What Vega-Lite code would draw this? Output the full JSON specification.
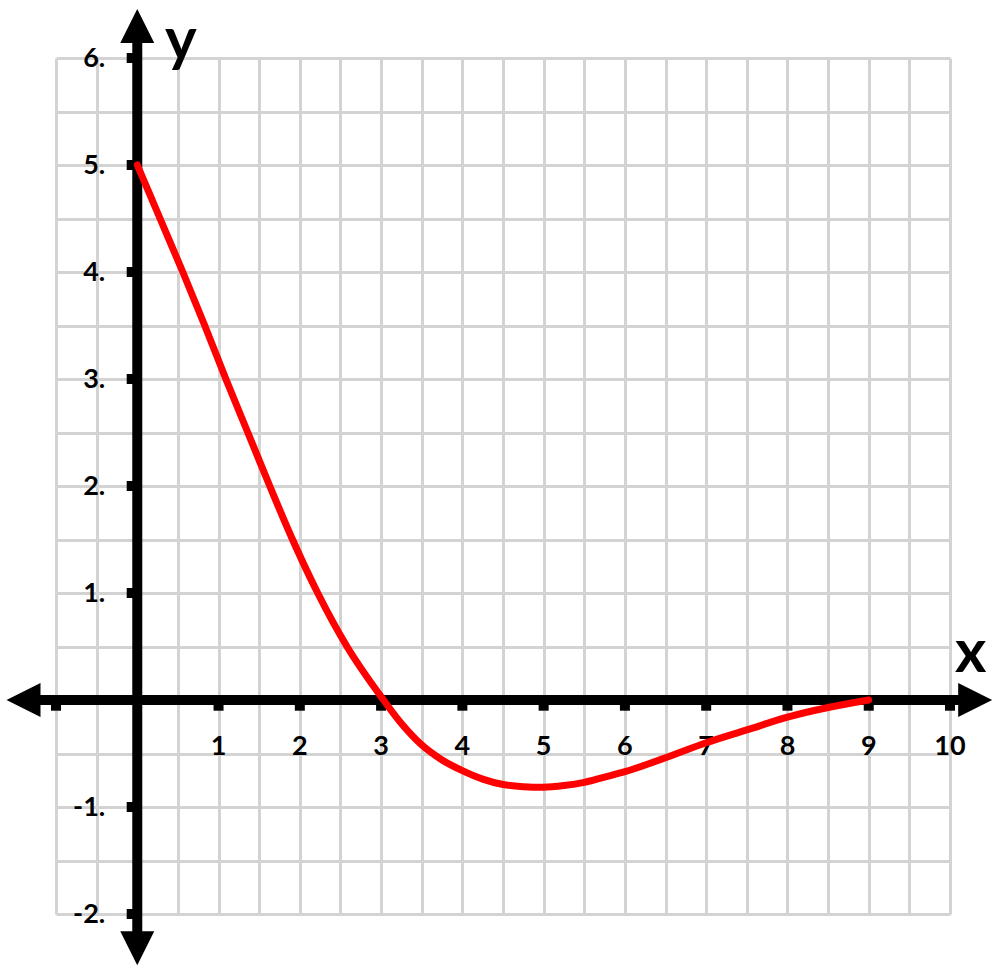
{
  "$schema": "https://vega.github.io/schema/vega-lite/v6.json",
  "width": 894,
  "height": 856,
  "autosize": {"type": "none"},
  "padding": {"left": 56, "top": 58, "right": 50, "bottom": 62},
  "background": "white",
  "datasets": {
    "curve": [
      {"x": 0, "y": 5},
      {"x": 0.28, "y": 4.5},
      {"x": 0.56, "y": 4},
      {"x": 0.83, "y": 3.5},
      {"x": 1.09, "y": 3},
      {"x": 1.36, "y": 2.5},
      {"x": 1.63, "y": 2},
      {"x": 1.91, "y": 1.5},
      {"x": 2.22, "y": 1},
      {"x": 2.58, "y": 0.5},
      {"x": 3.03, "y": 0},
      {"x": 3.25, "y": -0.22},
      {"x": 3.5, "y": -0.42},
      {"x": 3.75, "y": -0.56},
      {"x": 4.0, "y": -0.66},
      {"x": 4.25, "y": -0.74},
      {"x": 4.5, "y": -0.79},
      {"x": 4.75, "y": -0.81},
      {"x": 5.0, "y": -0.815},
      {"x": 5.25, "y": -0.8},
      {"x": 5.5, "y": -0.77},
      {"x": 5.75, "y": -0.72},
      {"x": 6.0, "y": -0.67},
      {"x": 6.5, "y": -0.54},
      {"x": 7.0, "y": -0.4},
      {"x": 7.5, "y": -0.28},
      {"x": 8.0, "y": -0.16},
      {"x": 8.5, "y": -0.07},
      {"x": 9.0, "y": 0}
    ],
    "axes": [
      {"x": -1.4, "y": 0, "x2": 10.31, "y2": 0},
      {"x": 0, "y": -2.32, "x2": 0, "y2": 6.3},
      {"x": -1, "y": 0, "x2": -1, "y2": -0.1},
      {"x": 1, "y": 0, "x2": 1, "y2": -0.1},
      {"x": 2, "y": 0, "x2": 2, "y2": -0.1},
      {"x": 3, "y": 0, "x2": 3, "y2": -0.1},
      {"x": 4, "y": 0, "x2": 4, "y2": -0.1},
      {"x": 5, "y": 0, "x2": 5, "y2": -0.1},
      {"x": 6, "y": 0, "x2": 6, "y2": -0.1},
      {"x": 7, "y": 0, "x2": 7, "y2": -0.1},
      {"x": 8, "y": 0, "x2": 8, "y2": -0.1},
      {"x": 9, "y": 0, "x2": 9, "y2": -0.1},
      {"x": 10, "y": 0, "x2": 10, "y2": -0.1},
      {"x": -0.13, "y": 6, "x2": 0, "y2": 6},
      {"x": -0.13, "y": 5, "x2": 0, "y2": 5},
      {"x": -0.13, "y": 4, "x2": 0, "y2": 4},
      {"x": -0.13, "y": 3, "x2": 0, "y2": 3},
      {"x": -0.13, "y": 2, "x2": 0, "y2": 2},
      {"x": -0.13, "y": 1, "x2": 0, "y2": 1},
      {"x": -0.13, "y": -1, "x2": 0, "y2": -1},
      {"x": -0.13, "y": -2, "x2": 0, "y2": -2}
    ],
    "arrows": [
      {"x": -1.4, "y": 0, "dir": "left"},
      {"x": 10.31, "y": 0, "dir": "right"},
      {"x": 0, "y": 6.3, "dir": "up"},
      {"x": 0, "y": -2.32, "dir": "down"}
    ],
    "xlabels": [
      {"x": 1, "y": 0, "label": "1"},
      {"x": 2, "y": 0, "label": "2"},
      {"x": 3, "y": 0, "label": "3"},
      {"x": 4, "y": 0, "label": "4"},
      {"x": 5, "y": 0, "label": "5"},
      {"x": 6, "y": 0, "label": "6"},
      {"x": 7, "y": 0, "label": "7"},
      {"x": 8, "y": 0, "label": "8"},
      {"x": 9, "y": 0, "label": "9"},
      {"x": 10, "y": 0, "label": "10"}
    ],
    "ylabels": [
      {"x": 0, "y": 6, "label": "6."},
      {"x": 0, "y": 5, "label": "5."},
      {"x": 0, "y": 4, "label": "4."},
      {"x": 0, "y": 3, "label": "3."},
      {"x": 0, "y": 2, "label": "2."},
      {"x": 0, "y": 1, "label": "1."},
      {"x": 0, "y": -1, "label": "-1."},
      {"x": 0, "y": -2, "label": "-2."}
    ],
    "titles": [
      {"x": 0.34, "y": 5.98, "label": "y"},
      {"x": 10.06, "y": 0.26, "label": "x"}
    ]
  },
  "encoding": {
    "x": {
      "field": "x",
      "type": "quantitative",
      "scale": {"domain": [-1, 10], "nice": false, "zero": false},
      "axis": {
        "values": [-1, -0.5, 0, 0.5, 1, 1.5, 2, 2.5, 3, 3.5, 4, 4.5, 5, 5.5, 6, 6.5, 7, 7.5, 8, 8.5, 9, 9.5, 10],
        "grid": true,
        "gridColor": "#d3d3d3",
        "gridWidth": 3,
        "gridOpacity": 1,
        "labels": false,
        "ticks": false,
        "domain": false,
        "title": null
      }
    },
    "y": {
      "field": "y",
      "type": "quantitative",
      "scale": {"domain": [-2, 6], "nice": false, "zero": false},
      "axis": {
        "values": [-2, -1.5, -1, -0.5, 0, 0.5, 1, 1.5, 2, 2.5, 3, 3.5, 4, 4.5, 5, 5.5, 6],
        "grid": true,
        "gridColor": "#d3d3d3",
        "gridWidth": 3,
        "gridOpacity": 1,
        "labels": false,
        "ticks": false,
        "domain": false,
        "title": null
      }
    }
  },
  "layer": [
    {
      "data": {"name": "axes"},
      "mark": {"type": "rule", "color": "black", "strokeWidth": 10},
      "encoding": {
        "x2": {"field": "x2"},
        "y2": {"field": "y2"}
      }
    },
    {
      "data": {"name": "arrows"},
      "mark": {"type": "point", "filled": true, "color": "black", "opacity": 1, "size": 1156, "strokeWidth": 0},
      "encoding": {
        "shape": {
          "field": "dir",
          "type": "nominal",
          "scale": {
            "domain": ["left", "right", "up", "down"],
            "range": ["M-1,0L1,-1L1,1Z", "M1,0L-1,-1L-1,1Z", "M0,-1L1,1L-1,1Z", "M0,1L1,-1L-1,-1Z"]
          },
          "legend": null
        }
      }
    },
    {
      "data": {"name": "xlabels"},
      "mark": {"type": "text", "font": "Lato", "fontWeight": "bold", "fontSize": 27, "align": "center", "baseline": "alphabetic", "dy": 55, "color": "black"},
      "encoding": {"text": {"field": "label"}}
    },
    {
      "data": {"name": "ylabels"},
      "mark": {"type": "text", "font": "Lato", "fontWeight": "bold", "fontSize": 27, "align": "right", "baseline": "alphabetic", "dx": -32, "dy": 9, "color": "black"},
      "encoding": {"text": {"field": "label"}}
    },
    {
      "data": {"name": "titles"},
      "mark": {"type": "text", "font": "Lato", "fontWeight": "bold", "fontSize": 60, "align": "left", "baseline": "alphabetic", "color": "black"},
      "encoding": {"text": {"field": "label"}}
    },
    {
      "data": {"name": "curve"},
      "mark": {"type": "line", "color": "#ff0000", "strokeWidth": 7, "strokeCap": "round", "interpolate": "monotone"},
      "encoding": {}
    }
  ],
  "config": {"view": {"stroke": null}}
}
